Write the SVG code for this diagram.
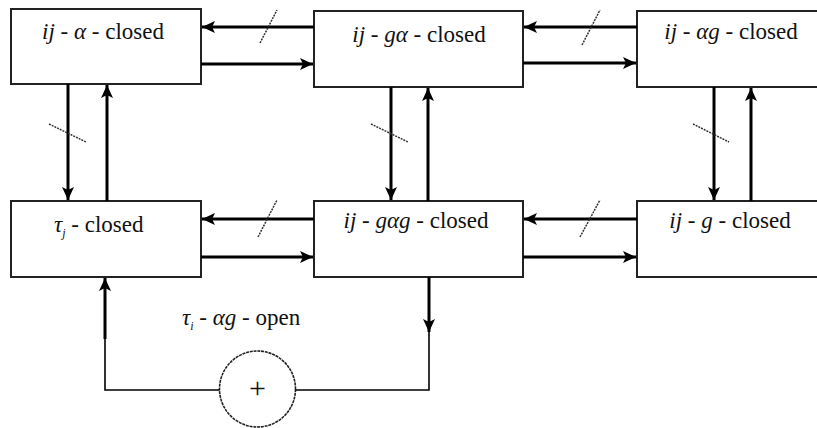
<svg xmlns="http://www.w3.org/2000/svg" width="817" height="428" viewBox="0 0 817 428">
<style>
.box{fill:#fff;stroke:#222;stroke-width:2}
.ln{fill:none;stroke:#000;stroke-width:3}
.thin{fill:none;stroke:#000;stroke-width:1.6}
.sl{fill:none;stroke:#333;stroke-width:1.5;stroke-dasharray:2 1}
.t{font-family:'Liberation Serif',serif;font-size:23px;fill:#111}
.i{font-style:italic}
.sub{font-size:12px}
</style>
<defs>
<marker id="ah" markerUnits="userSpaceOnUse" markerWidth="14" markerHeight="12" refX="13" refY="6" orient="auto">
<path d="M0,0 L13,6 L0,12 L3,6 z" fill="#000"/>
</marker>
</defs>
<rect width="817" height="428" fill="#fff"/>
<g id="n1"><rect class="box" x="11" y="9" width="190" height="75"/>
<text class="t" x="103" y="39" text-anchor="middle"><tspan class="i">ij</tspan> - <tspan class="i">α</tspan> - closed</text></g>
<g id="n2"><rect class="box" x="314" y="11" width="209" height="76"/>
<text class="t" x="419" y="42" text-anchor="middle"><tspan class="i">ij</tspan> - <tspan class="i">gα</tspan> - closed</text></g>
<g id="n3"><rect class="box" x="637" y="11" width="190" height="76"/>
<text class="t" x="731" y="39" text-anchor="middle"><tspan class="i">ij</tspan> - <tspan class="i">αg</tspan> - closed</text></g>
<g id="n4"><rect class="box" x="11" y="201" width="190" height="76"/>
<text class="t" x="54" y="232"><tspan class="i">τ</tspan><tspan class="i sub" dy="5">j</tspan><tspan dy="-5"> - closed</tspan></text></g>
<g id="n5"><rect class="box" x="314" y="201" width="209" height="76"/>
<text class="t" x="416" y="228" text-anchor="middle"><tspan class="i">ij</tspan> - <tspan class="i">gαg</tspan> - closed</text></g>
<g id="n6"><rect class="box" x="637" y="201" width="190" height="76"/>
<text class="t" x="730" y="228" text-anchor="middle"><tspan class="i">ij</tspan> - <tspan class="i">g</tspan> - closed</text></g>
<g id="n7"><circle cx="257.5" cy="389" r="38" fill="#fff" stroke="#222" stroke-width="1.6" stroke-dasharray="3 0.8"/>
<text class="t" x="257.5" y="398" text-anchor="middle" style="font-size:30px">+</text></g>
<g id="label"><text class="t" x="182" y="325"><tspan class="i">τ</tspan><tspan class="i sub" dy="5">i</tspan><tspan dy="-5"> - </tspan><tspan class="i">αg</tspan> - open</text></g>
<g id="connectors">
<line class="ln" x1="314" y1="27" x2="202" y2="27" marker-end="url(#ah)"/>
<line class="ln" x1="201" y1="64" x2="313" y2="64" marker-end="url(#ah)"/>
<line class="ln" x1="637" y1="27" x2="524" y2="27" marker-end="url(#ah)"/>
<line class="ln" x1="523" y1="63" x2="636" y2="63" marker-end="url(#ah)"/>
<line class="ln" x1="314" y1="219" x2="202" y2="219" marker-end="url(#ah)"/>
<line class="ln" x1="201" y1="257" x2="313" y2="257" marker-end="url(#ah)"/>
<line class="ln" x1="637" y1="219" x2="524" y2="219" marker-end="url(#ah)"/>
<line class="ln" x1="523" y1="257" x2="636" y2="257" marker-end="url(#ah)"/>
<line class="ln" x1="68" y1="84" x2="68" y2="200" marker-end="url(#ah)"/>
<line class="ln" x1="107" y1="201" x2="107" y2="85" marker-end="url(#ah)"/>
<line class="ln" x1="391" y1="87" x2="391" y2="200" marker-end="url(#ah)"/>
<line class="ln" x1="428" y1="201" x2="428" y2="88" marker-end="url(#ah)"/>
<line class="ln" x1="714" y1="87" x2="714" y2="200" marker-end="url(#ah)"/>
<line class="ln" x1="751" y1="201" x2="751" y2="88" marker-end="url(#ah)"/>
<line class="sl" x1="260" y1="43" x2="277" y2="10"/>
<line class="sl" x1="582" y1="45" x2="600" y2="10"/>
<line class="sl" x1="258" y1="237" x2="277" y2="200"/>
<line class="sl" x1="580" y1="237" x2="600" y2="200"/>
<line class="sl" x1="49" y1="124" x2="86" y2="142"/>
<line class="sl" x1="371" y1="124" x2="408" y2="142"/>
<line class="sl" x1="693" y1="124" x2="729" y2="142"/>
<polyline class="thin" points="219.5,390 105,390 105,338"/>
<line class="ln" x1="105" y1="339" x2="105" y2="278" marker-end="url(#ah)"/>
<polyline class="thin" points="295.5,390 429,390 429,330"/>
<line class="ln" x1="429" y1="277" x2="429" y2="332" marker-end="url(#ah)"/>
</g>
</svg>
